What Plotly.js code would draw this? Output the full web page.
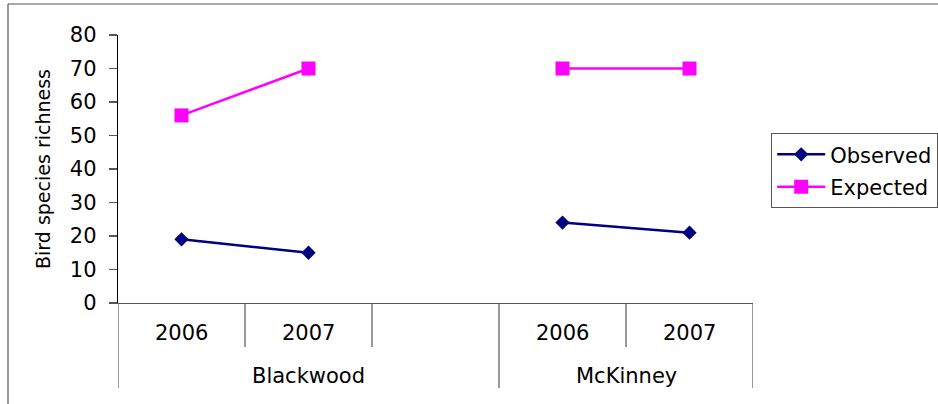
<!DOCTYPE html>
<html><head><meta charset="utf-8">
<script src="https://cdn.plot.ly/plotly-3.0.1.min.js"></script>
<style>html,body{margin:0;padding:0;background:#fff;}#chart{width:938px;height:404px;}</style>
</head><body><div id="chart"></div>
<script>
// Data
var years = ['2006', '2007', '', '2006', '2007'];
var sites = ['Blackwood', 'Blackwood', 'Blackwood', 'McKinney', 'McKinney'];
var observed = [19, 15, null, 24, 21];
var expected = [56, 70, null, 70, 70];
var seriesNames = ['Observed', 'Expected'];

var idx = years.map(function(_, i){ return i; });
var FONT = 'DejaVu Sans, Liberation Sans, Arial, sans-serif';

var traces = [
  {x: idx, y: observed, name: seriesNames[0], type: 'scatter', mode: 'lines+markers',
   line: {color: '#000080', width: 2.5}, marker: {symbol: 'diamond', size: 11, color: '#000080'},
   connectgaps: false, legendgroup: 'a'},
  {x: idx, y: expected, name: seriesNames[1], type: 'scatter', mode: 'lines+markers',
   line: {color: '#FF00FF', width: 2.5}, marker: {symbol: 'square', size: 14, color: '#FF00FF'},
   connectgaps: false, legendgroup: 'b'}
];

var shapes = [];
var annotations = [];
var n = years.length;
var yShort = -44/268, yLong = -85/268;
for (var i = 0; i <= n; i++) {
  var isGroupEdge = (i === 0 || i === n || sites[i] !== sites[i-1]);
  shapes.push({type: 'line', xref: 'x', yref: 'paper', x0: i - 0.5, x1: i - 0.5,
    y0: 0, y1: isGroupEdge ? yLong : yShort, line: {color: '#555', width: 1.2}});
}
years.forEach(function(y, i){
  if (y) annotations.push({xref: 'x', yref: 'paper', x: i, y: -30/268, text: y, showarrow: false,
    yanchor: 'middle', xanchor: 'center', font: {family: FONT, size: 21, color: '#000'}});
});
var groups = [];
sites.forEach(function(s, i){
  var g = groups.find(function(o){ return o.name === s; });
  if (!g) { g = {name: s, idx: []}; groups.push(g); }
  g.idx.push(i);
});
groups.forEach(function(g){
  var c = g.idx.reduce(function(a,b){return a+b;}, 0) / g.idx.length;
  annotations.push({xref: 'x', yref: 'paper', x: c, y: -73/268, text: g.name, showarrow: false,
    yanchor: 'middle', xanchor: 'center', font: {family: FONT, size: 21, color: '#000'}});
});
// outer chart border (top and left)
shapes.push({type: 'line', xref: 'paper', yref: 'paper', x0: -110/635, x1: 830/635, y0: 299/268, y1: 299/268, line: {color: '#555', width: 1.2}});
shapes.push({type: 'line', xref: 'paper', yref: 'paper', x0: -110/635, x1: -110/635, y0: 299/268, y1: -110/268, line: {color: '#555', width: 1.2}});

var layout = {
  width: 938, height: 404,
  margin: {l: 118, r: 185, t: 35, b: 101, pad: 0, autoexpand: false},
  paper_bgcolor: '#fff', plot_bgcolor: '#fff',
  showlegend: true,
  font: {family: FONT, size: 20, color: '#000'},
  xaxis: {range: [-0.5, n - 0.5], showticklabels: false, ticks: '', showgrid: false, zeroline: false,
    showline: true, linecolor: '#555', linewidth: 1.2, fixedrange: true, automargin: false},
  yaxis: {range: [0, 80], dtick: 10, tick0: 0, ticks: 'outside', ticklen: 8, tickcolor: '#555', tickwidth: 1.2,
    showgrid: false, zeroline: false, showline: true, linecolor: '#000', linewidth: 1.2,
    ticklabelstandoff: 8, automargin: false,
    tickfont: {family: FONT, size: 21, color: '#000'},
    title: {text: 'Bird species richness', font: {family: FONT, size: 19, color: '#000'}, standoff: 14}},
  legend: {x: 653/635, y: 170/268, xanchor: 'left', yanchor: 'top',
    bordercolor: '#555', borderwidth: 1.2, bgcolor: '#fff',
    font: {family: FONT, size: 21, color: '#000'}, traceorder: 'grouped', tracegroupgap: 2,
    itemwidth: 48},
  shapes: shapes,
  annotations: annotations
};

Plotly.newPlot('chart', traces, layout, {staticPlot: true, displayModeBar: false});
</script>
</body></html>
